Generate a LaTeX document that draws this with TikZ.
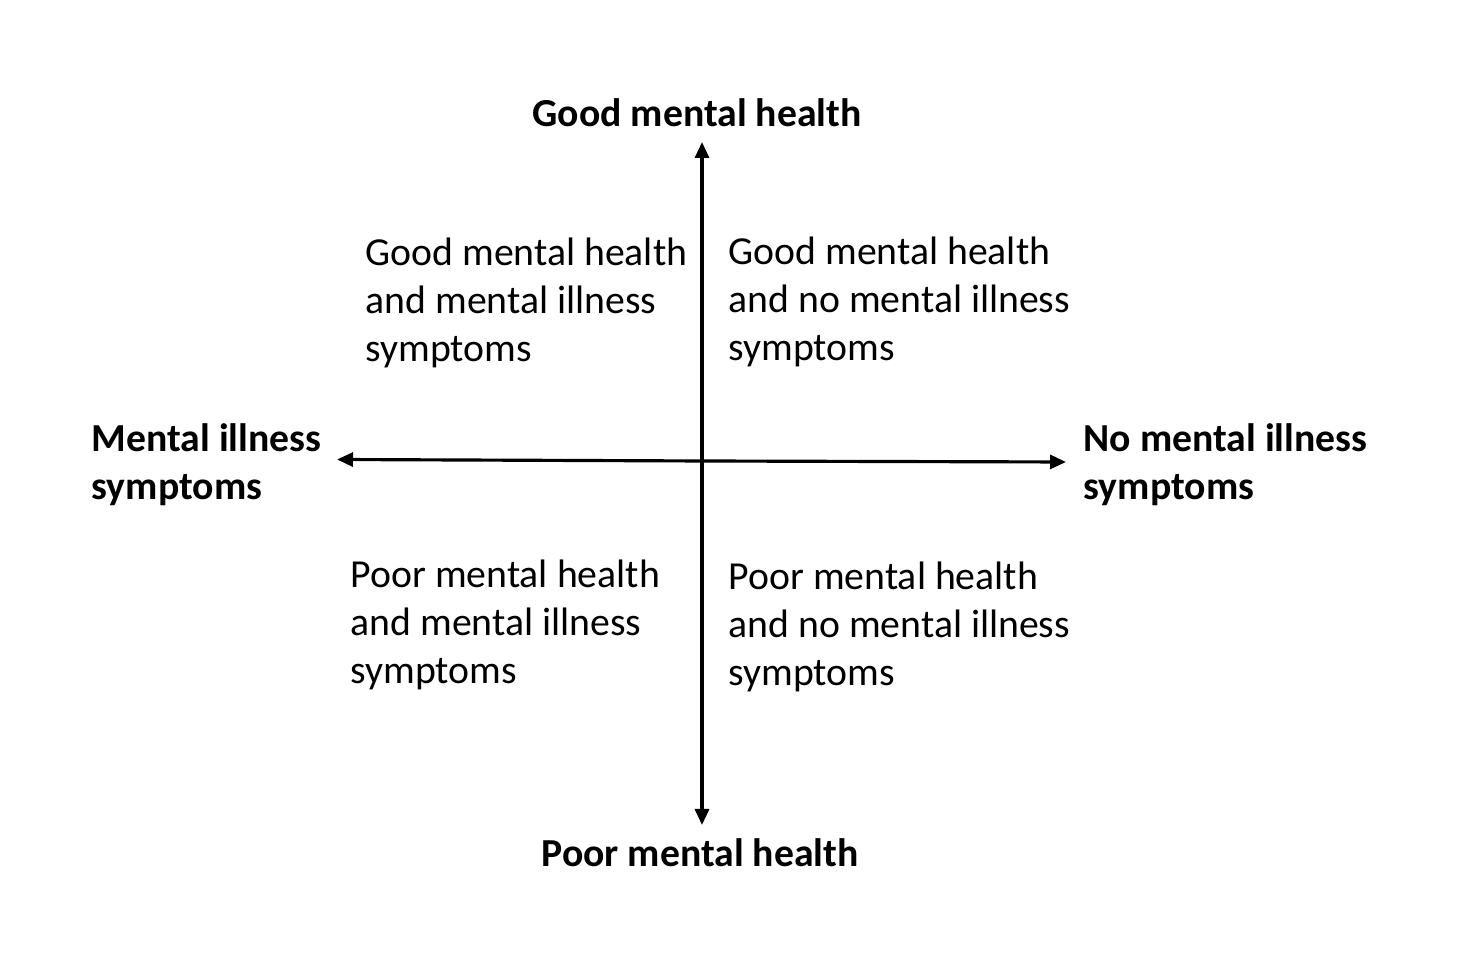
\documentclass[tikz,border=0pt]{standalone}
\usepackage{fontspec}
\setmainfont{Carlito}
\usetikzlibrary{arrows.meta, positioning}
\tikzstyle{axis} = [line width=0.9pt, -{Triangle[length=1.6mm, width=1.4mm]}]
\tikzstyle{pole} = [font=\fontsize{11.3}{13.7}\selectfont\bfseries, inner sep=0pt, align=left]
\tikzstyle{quad} = [font=\fontsize{11.3}{13.7}\selectfont, inner sep=0pt, align=left, anchor=west]

\begin{document}
\begin{tikzpicture}
        \useasboundingbox (0,0) rectangle (14.58,9.79);
        % Axis ends
        \coordinate (origin) at (7.02,5.18);
        \coordinate (top) at (7.02,8.37);
        \coordinate (bottom) at (7.02,1.54);
        \coordinate (left) at (3.37,5.195);
        \coordinate (right) at (10.66,5.17);

        % Axes
        \draw[axis] (origin) -- (top);
        \draw[axis] (origin) -- (bottom);
        \draw[axis] (origin) -- (left);
        \draw[axis] (origin) -- (right);

        % Poles
        \node (good) [pole] at (6.97,8.66) {Good mental health};
        \node (poor) [pole] at (7.00,1.26) {Poor mental health};
        \node (symptoms) [pole, anchor=west] at (0.91,5.14) {Mental illness\\symptoms};
        \node (nosymptoms) [pole, anchor=west] at (10.83,5.14) {No mental illness\\symptoms};

        % Quadrants
        \node (goodsym) [quad] at (3.65,6.76) {Good mental health\\and mental illness\\symptoms};
        \node (goodnosym) [quad] at (7.28,6.77) {Good mental health\\and no mental illness\\symptoms};
        \node (poorsym) [quad] at (3.50,3.54) {Poor mental health\\and mental illness\\symptoms};
        \node (poornosym) [quad] at (7.28,3.52) {Poor mental health\\and no mental illness\\symptoms};
\end{tikzpicture}
\end{document}
